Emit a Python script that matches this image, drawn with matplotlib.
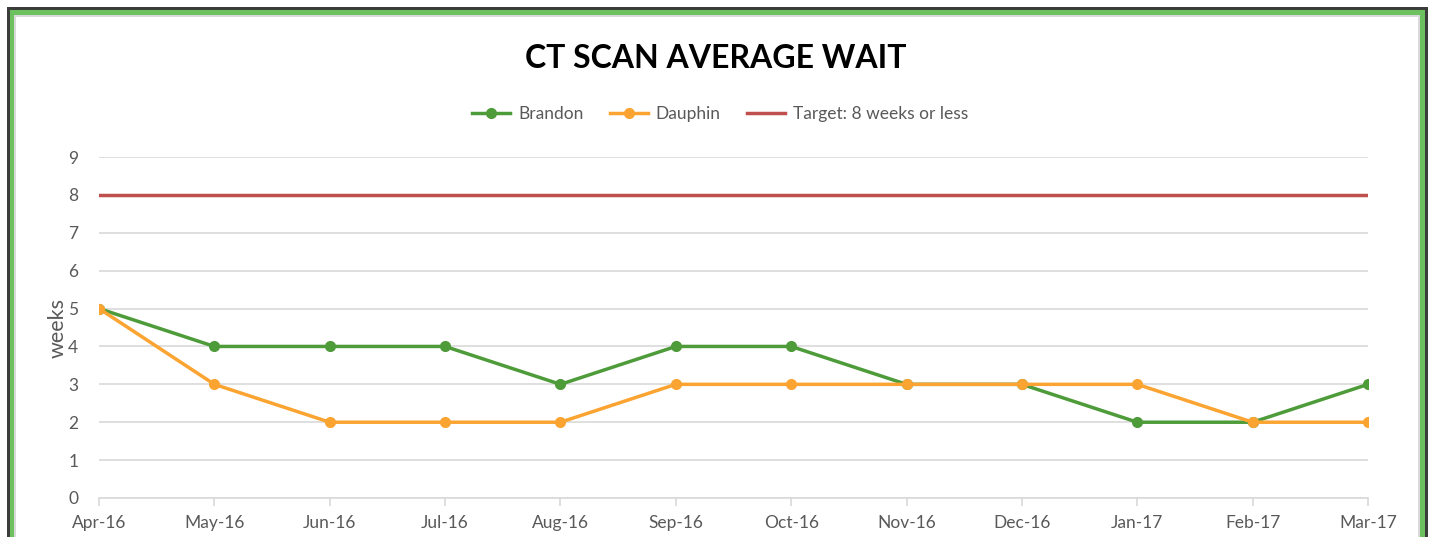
import matplotlib
matplotlib.use("Agg")
import matplotlib.pyplot as plt
from matplotlib.patches import Rectangle

months = ["Apr-16", "May-16", "Jun-16", "Jul-16", "Aug-16", "Sep-16",
          "Oct-16", "Nov-16", "Dec-16", "Jan-17", "Feb-17", "Mar-17"]
brandon = [5, 4, 4, 4, 3, 4, 4, 3, 3, 2, 2, 3]
dauphin = [5, 3, 2, 2, 2, 3, 3, 3, 3, 3, 2, 2]
target = [8] * 12
yticks = list(range(0, 10))

W, H = 1432, 537
plt.rcParams['font.family'] = ['Lato', 'DejaVu Sans']
fig = plt.figure(figsize=(W / 100, H / 100), dpi=100)

def prect(x0, y0, x1, y1, color):
    fig.add_artist(Rectangle((x0 / W, 1 - y1 / H), (x1 - x0) / W, (y1 - y0) / H,
                             transform=fig.transFigure, facecolor=color,
                             edgecolor='none', zorder=-10))

prect(7, 7, 1428, 600, '#3a3d3a')
prect(10, 10, 1425, 600, '#6cc05e')
prect(14, 15, 1420, 600, '#d9d9d9')
prect(16, 17, 1418, 600, 'white')

ax = fig.add_axes([99 / W, 1 - 498 / H, (1368 - 99) / W, (498 - 157) / H])
ax.set_facecolor('none')
x = list(range(len(months)))

ax.plot(x, target, color='#c0504d', lw=2.5, label='Target: 8 weeks or less', zorder=3)
ax.plot(x, brandon, color='#4e9b3a', lw=2.5, marker='o', ms=7, label='Brandon', zorder=4)
ax.plot(x, dauphin, color='#fba432', lw=2.5, marker='o', ms=7, label='Dauphin', zorder=5)

ax.set_xlim(0, len(months) - 1)
ax.set_ylim(0, 9)
ax.set_yticks(yticks)
ax.set_xticks(x)
ax.set_xticklabels(months)
ax.yaxis.grid(True, color='#d9d9d9', lw=1.2)
ax.set_axisbelow(True)
for s in ['top', 'right', 'left']:
    ax.spines[s].set_visible(False)
ax.spines['bottom'].set_color('#d9d9d9')
ax.spines['bottom'].set_linewidth(1.2)
ax.tick_params(axis='y', length=0, pad=15, labelsize=12.5, labelcolor='#595959')
ax.tick_params(axis='x', length=6, width=1.2, color='#d9d9d9', pad=6,
               labelsize=12.5, labelcolor='#595959')
ax.set_ylabel('weeks', fontsize=15.5, color='#595959', labelpad=0)

fig.text(716 / W, 1 - 58 / H, 'CT SCAN AVERAGE WAIT', ha='center', va='center',
         fontsize=23, fontweight='bold', color='black')

handles, labels = ax.get_legend_handles_labels()
order = [1, 2, 0]
fig.legend([handles[i] for i in order], [labels[i] for i in order],
           loc='center', bbox_to_anchor=(720 / W, 1 - 114 / H), ncol=3,
           frameon=False, fontsize=12.5, labelcolor='#595959',
           handlelength=2.2, columnspacing=1.5, handletextpad=0.45)

fig.savefig('out.png', dpi=100)
